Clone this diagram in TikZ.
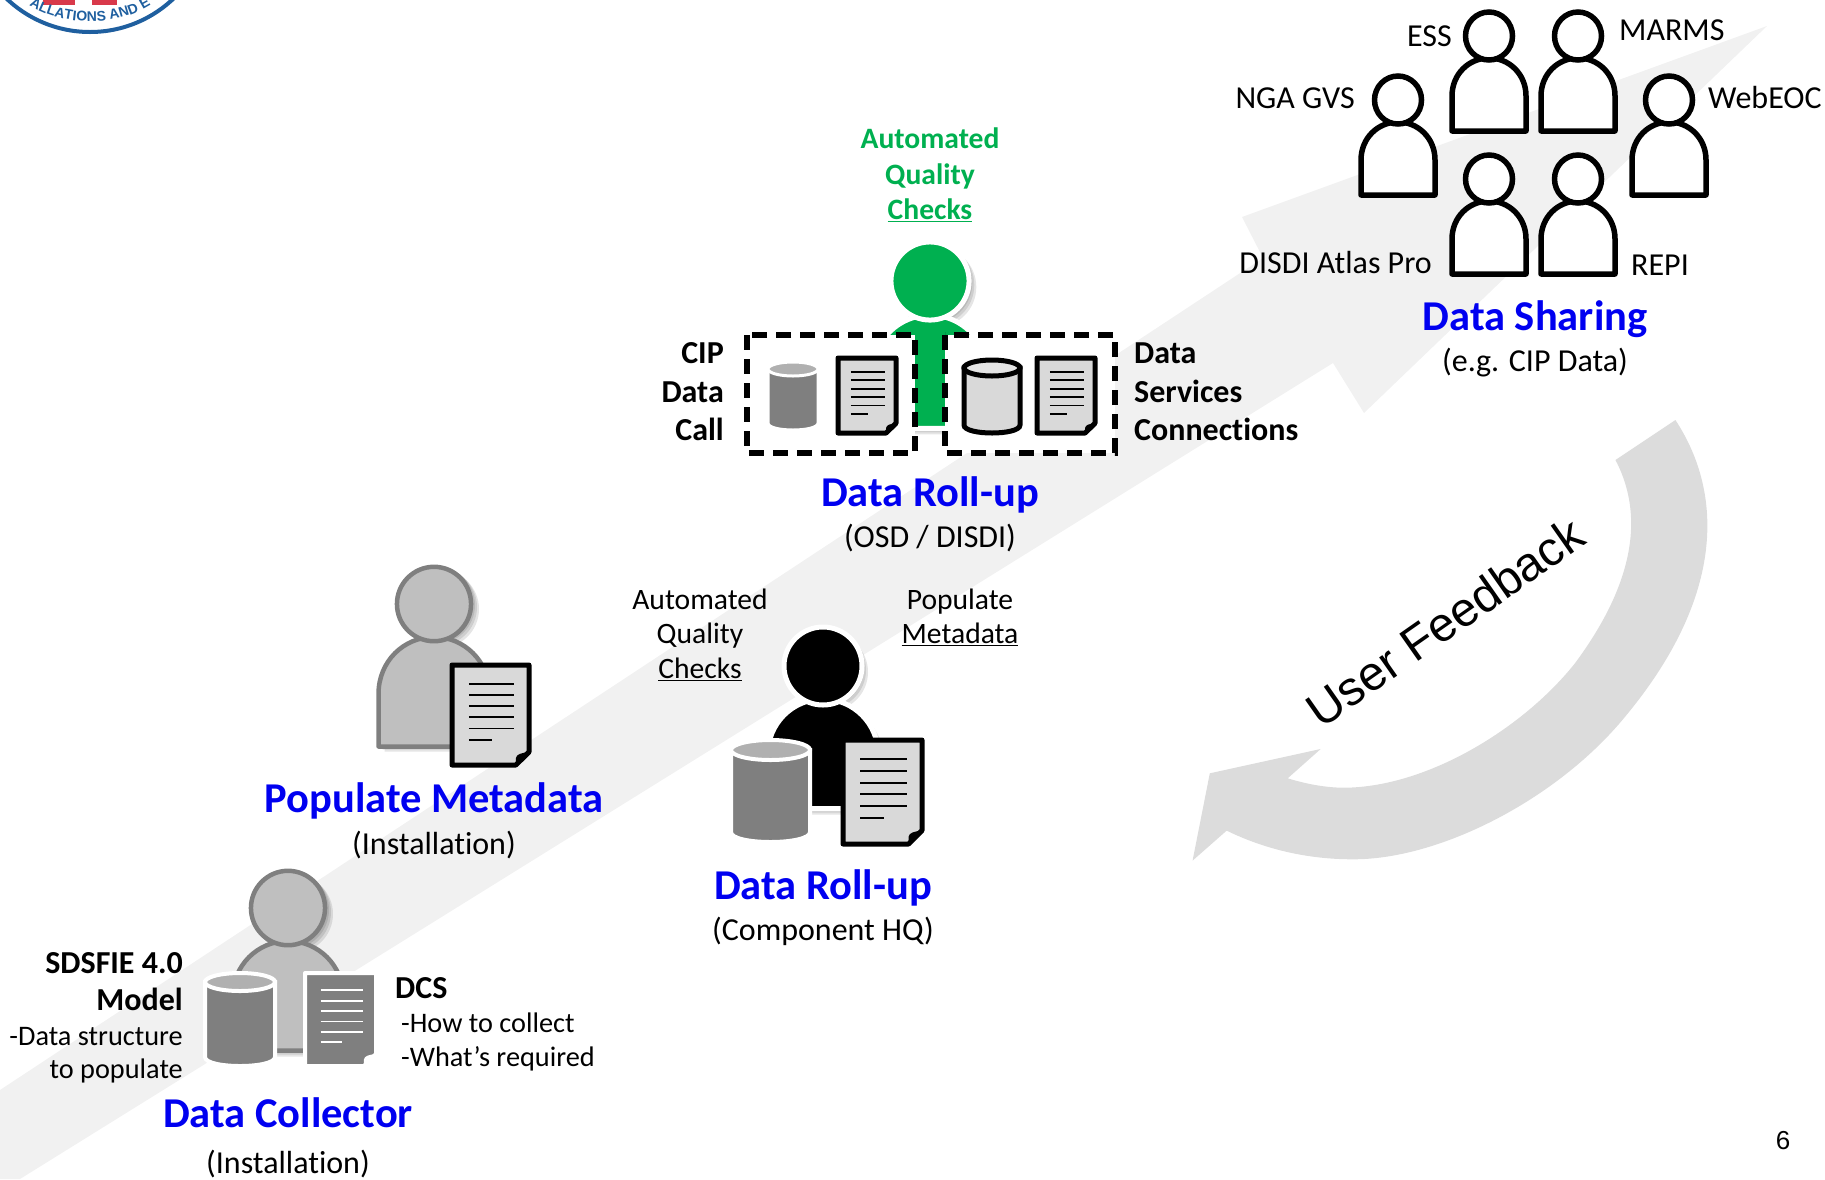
\documentclass[tikz,border=0pt]{standalone}
\usepackage{fontspec}
\setmainfont[Ligatures=NoCommon]{Carlito}
\newfontfamily\arialf{Liberation Sans}
\usetikzlibrary{decorations.text}
\definecolor{band}{HTML}{F1F1F1}
\definecolor{looptint}{HTML}{DCDCDC}
\definecolor{sheet}{HTML}{D9D9D9}
\definecolor{gfill}{HTML}{BFBFBF}
\definecolor{gline}{HTML}{7F7F7F}
\definecolor{cyltop}{HTML}{B0B0B0}
\definecolor{dgreen}{HTML}{00B050}
\definecolor{sblue}{HTML}{0000F0}
\definecolor{sealblue}{HTML}{1F5F9F}
\definecolor{sealred}{HTML}{D8394A}
\tikzset{
  lab/.style={inner sep=0pt,yshift=-8pt,font=\fontsize{32}{34}\selectfont,text height=0.7em,text depth=0.2em},
  labb/.style={lab,font=\fontsize{32}{34}\selectfont\bfseries},
  labs/.style={lab,yshift=1pt,font=\fontsize{29.6}{31}\selectfont},
  labm/.style={lab,yshift=1pt,font=\fontsize{28.3}{30}\selectfont},
  labg/.style={lab,yshift=1pt,font=\fontsize{29.6}{31}\selectfont\bfseries,text=dgreen},
  ttl/.style={inner sep=0pt,yshift=-11pt,font=\fontsize{42.5}{44}\selectfont\bfseries,text=sblue,text height=0.7em,text depth=0.2em},
  dashbox/.style={draw=black,fill=white,line width=6pt,dash pattern=on 15pt off 9pt},
}
% person: cx, head y, scale, fill, stroke, stroke width, head radii x and y
\newcommand{\personbody}{(-37,95) -- (-37,60) .. controls (-37,38) and (-20,22) .. (0,22) .. controls (20,22) and (37,38) .. (37,60) -- (37,95) -- cycle}
\newcommand{\personshadow}[3]{%
  \foreach \d in {2,4,6}{
    \begin{scope}[shift={(#1+\d,#2+\d)},scale=#3]
      \fill[black,opacity=.1] \personbody;
      \fill[black,opacity=.1] (0,0) ellipse [x radius=26,y radius=26];
    \end{scope}}}
\newcommand{\person}[8]{%
  \begin{scope}[shift={(#1,#2)},scale=#3]
    \path[fill=#4,draw=#5,line width=#6pt,line join=round] \personbody;
    \path[fill=#4,draw=#5,line width=#6pt] (0,0) ellipse [x radius=#7,y radius=#8];
  \end{scope}}
% document: x, y, w, h, fill, stroke, stroke width, line colour
\newcommand{\docsheet}[8]{%
  \begin{scope}[shift={(#1,#2)},x=#3pt,y=-#4pt]
    \path[fill=#5,draw=#6,line width=#7pt,line join=round] (0,0) -- (1,0) -- (1,.87) -- (.83,1) -- (0,1) -- cycle;
    \fill[#6] (1,.87) -- (.83,1) -- (.83,.93) .. controls (.84,.89) and (.9,.88) .. (1,.87) -- cycle;
    \foreach \yy in {.186,.298,.41,.522,.634}{\draw[#8,line width=1.8pt] (.22,\yy) -- (.81,\yy);}
    \draw[#8,line width=1.8pt] (.22,.746) -- (.525,.746);
  \end{scope}}
% cylinder: x, y, w, h, ry, body, top, stroke, stroke width
\newcommand{\cylinder}[9]{%
  \begin{scope}[shift={(#1,#2)}]
    \path[fill=#6,draw=#8,line width=#9pt] (0,#5) -- (0,#4-#5) .. controls (0,#4+#5/3) and (#3,#4+#5/3) .. (#3,#4-#5) -- (#3,#5) -- cycle;
    \path[fill=#7,draw=#8,line width=#9pt] (#3/2,#5) ellipse [x radius=#3/2,y radius=#5];
  \end{scope}}
\begin{document}
\begin{tikzpicture}[x=1pt,y=-1pt]
\useasboundingbox (0,0) rectangle (1825,1179);
% background arrow
\fill[band] (1767,26) -- (1364,413) -- (1333,363) -- (20,1179) -- (0,1179) -- (0,1090) -- (1263,258) -- (1242,217) -- cycle;
% seal
\begin{scope}
  \clip (0,0) rectangle (200,60);
  \draw[sealblue,line width=4pt] (90,-89) circle [radius=121];
  \fill[sealred] (43,-5) rectangle (117,5);
  \fill[white] (75,-5) rectangle (92,5);
  \path[postaction={decorate},decoration={text along path,text align=center,text={|\arialf\fontsize{14}{15}\selectfont\bfseries\color{sealblue}|ALLATIONS AND E}}]
    (14,-8) .. controls (48,31) and (132,31) .. (166,-8);
\end{scope}
% feedback arrow
\begin{scope}[shift={(1180,400)},x=0.359pt,y=-0.3333pt]
\fill[looptint] (1380,60) .. controls (1520,290) and (1510,600) .. (1240,950)
 .. controls (1050,1200) and (720,1380) .. (480,1378)
 .. controls (360,1378) and (240,1350) .. (130,1292)
 -- (35,1382) -- (83,1120) -- (392,1047) -- (300,1135)
 .. controls (360,1155) and (420,1165) .. (470,1163)
 .. controls (700,1155) and (960,980) .. (1100,790)
 .. controls (1210,630) and (1320,400) .. (1213,180) -- cycle;
\end{scope}
\node[rotate=35,inner sep=0pt,font=\arialf\fontsize{48}{50}\selectfont] (fb) at (1445,622) {User Feedback};
% data sharing people
\person{1489}{36}{1}{white}{black}{5.5}{23.5}{24}
\person{1578}{36}{1}{white}{black}{5.5}{23.5}{24}
\person{1398}{100}{1}{white}{black}{5.5}{23.5}{24}
\person{1669}{100}{1}{white}{black}{5.5}{23.5}{24}
\person{1489}{179}{1}{white}{black}{5.5}{23.5}{24}
\person{1578}{179}{1}{white}{black}{5.5}{23.5}{24}
\node[lab,anchor=east] (ess) at (1452,36) {ESS};
\node[lab,anchor=west] (marms) at (1619,30) {MARMS};
\node[lab,anchor=east] (nga) at (1355,98) {NGA GVS};
\node[lab,anchor=west] (web) at (1708,98) {WebEOC};
\node[lab,anchor=east] (disdi) at (1432,263) {DISDI Atlas Pro};
\node[lab,anchor=west] (repi) at (1631,265) {REPI};
\node[ttl] (sharing) at (1535,317) {Data Sharing};
\node[lab] (sharing2) at (1535,361) {(e.g. CIP Data)};
% green person and boxes
\personshadow{930}{281}{1.55}
\person{930}{281}{1.55}{dgreen}{white}{5}{25.2}{25.2}
\path[dashbox] (747,335) rectangle (915,453);
\path[dashbox] (945,335) rectangle (1115,453);
\cylinder{768}{362}{50}{68}{7}{gline}{cyltop}{white}{3}
\docsheet{838}{358}{58}{75}{sheet}{black}{5}{black}
\cylinder{964}{360}{56}{73}{8}{sheet}{sheet!70!white}{black}{5}
\docsheet{1037}{358}{58}{75}{sheet}{black}{5}{black}
\node[labg] (ga) at (930,139) {Automated};
\node[labg] (gb) at (930,175) {Quality};
\node[labg] (gc) at (930,210) {\underline{Checks}};
\node[labb,anchor=east] (cipa) at (724,353) {CIP};
\node[labb,anchor=east] (cipb) at (724,392) {Data};
\node[labb,anchor=east] (cipc) at (724,430) {Call};
\node[labb,anchor=west] (dsa) at (1134,353) {Data};
\node[labb,anchor=west] (dsb) at (1134,392) {Services};
\node[labb,anchor=west] (dsc) at (1134,430) {Connections};
\node[ttl] (osd) at (930,493) {Data Roll-up};
\node[lab] (osd2) at (930,537) {(OSD / DISDI)};
% black person
\personshadow{823}{666}{1.5}
\person{823}{666}{1.5}{black}{white}{5}{26}{26}
\cylinder{731}{740}{79}{102}{10}{gline}{cyltop}{white}{4}
\docsheet{843}{740}{79}{104}{sheet}{black}{5}{black}
\node[labs] (aa) at (700,600) {Automated};
\node[labs] (ab) at (700,634) {Quality};
\node[labs] (ac) at (700,669) {\underline{Checks}};
\node[labs] (pa) at (960,600) {Populate};
\node[labs] (pb) at (960,634) {\underline{Metadata}};
\node[ttl] (hq) at (823,886) {Data Roll-up};
\node[lab] (hq2) at (823,930) {(Component HQ)};
% gray populate person
\personshadow{434}{603}{1.5}
\person{434}{604}{1.5}{gfill}{gline}{4.5}{24.7}{24.8}
\docsheet{452}{665}{77}{100}{sheet}{black}{5}{black}
\node[ttl] (pm) at (434,799) {Populate Metadata};
\node[lab] (pm2) at (434,844) {(Installation)};
% collector
\personshadow{288}{908}{1.5}
\person{288}{908}{1.5}{gfill}{gline}{4.5}{24.7}{24.8}
\cylinder{205}{973}{70}{93}{9}{gline}{cyltop}{white}{4}
\docsheet{305}{973}{71}{93}{gline}{white}{4}{white}
\node[labb,anchor=east] (sa) at (183,963) {SDSFIE 4.0};
\node[labb,anchor=east] (sb) at (183,1000) {Model};
\node[labm,anchor=east] (sc) at (183,1036) {-Data structure};
\node[labm,anchor=east] (sd) at (183,1069) {to populate};
\node[labb,anchor=west] (dcs) at (395,988) {DCS};
\node[labm,anchor=west] (da) at (401,1023) {-How to collect};
\node[labm,anchor=west] (db) at (401,1057) {-What’s required};
\node[ttl] (dc) at (288,1114) {Data Collector};
\node[lab] (dc2) at (288,1163) {(Installation)};
\node[inner sep=0pt,font=\arialf\fontsize{26}{28}\selectfont] (pg) at (1783,1141) {6};
\end{tikzpicture}
\end{document}
